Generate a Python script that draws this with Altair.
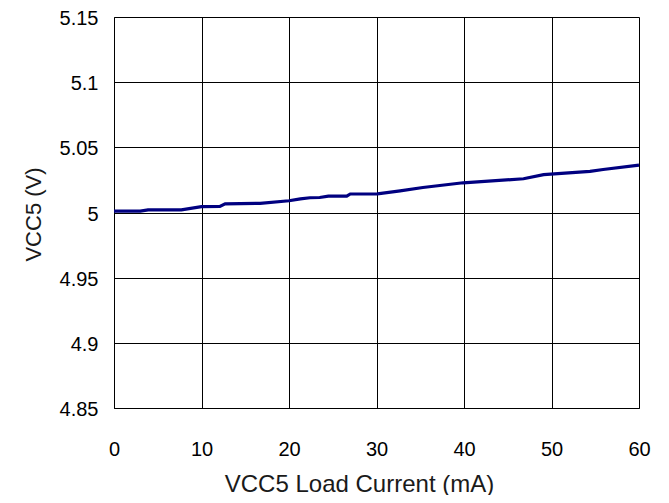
import altair as alt
import pandas as pd

current_ma = [0, 3.0, 3.9, 7.7, 10.0, 12.1, 12.7, 16.7, 20.0, 21.3, 22.4, 23.5,
              24.5, 26.6, 27.0, 30.1, 32.7, 35.3, 39.9, 46.8, 49.1, 54.4, 55.9, 60.0]
vcc5_v = [5.001, 5.001, 5.002, 5.002, 5.0045, 5.0046, 5.0066, 5.007, 5.009, 5.0105, 5.0113, 5.0115,
          5.0125, 5.0125, 5.0142, 5.0143, 5.0166, 5.0192, 5.0228, 5.0259, 5.029, 5.0315, 5.033, 5.0363]
x_ticks = [0, 10, 20, 30, 40, 50, 60]
y_ticks = [4.85, 4.9, 4.95, 5.0, 5.05, 5.1, 5.15]

df = pd.DataFrame({"current": current_ma, "vcc5": vcc5_v})

FONT = "Liberation Sans"

chart = alt.Chart(df).mark_line(color="#000080", strokeWidth=3.2, interpolate="linear").encode(
    x=alt.X("current:Q",
            scale=alt.Scale(domain=[0, 60], nice=False, zero=False),
            axis=alt.Axis(values=x_ticks, format="d", title="VCC5 Load Current (mA)",
                          grid=True, gridColor="#000000", gridWidth=1, gridOpacity=1,
                          ticks=False, tickSize=0, domain=True, domainColor="#000000",
                          labelFlush=False, labelOverlap=False,
                          labelFont=FONT, labelFontSize=20, labelColor="#000000",
                          labelBaseline="alphabetic", labelPadding=47,
                          titleFont=FONT, titleFontSize=24, titleFontWeight="normal",
                          titleColor="#1a1a1a", titleX=245, titleY=83,
                          titleAlign="center", titleBaseline="alphabetic")),
    y=alt.Y("vcc5:Q",
            scale=alt.Scale(domain=[4.85, 5.15], nice=False, zero=False),
            axis=alt.Axis(values=y_ticks, format="~g", title="VCC5 (V)",
                          grid=True, gridColor="#000000", gridWidth=1, gridOpacity=1,
                          ticks=False, tickSize=0, domain=True, domainColor="#000000",
                          labelFlush=False, labelOverlap=False,
                          labelFont=FONT, labelFontSize=20, labelColor="#000000",
                          labelBaseline="middle", labelPadding=16, labelOffset=1.5,
                          titleFont=FONT, titleFontSize=22, titleFontWeight="normal",
                          titleColor="#1a1a1a", titleX=-81, titleY=197, titleAngle=270,
                          titleAlign="center", titleBaseline="middle")),
).properties(
    width=525, height=391,
    autosize=alt.AutoSizeParams(type="none"),
    padding={"left": 106, "top": 9, "right": 22, "bottom": 87},
).configure_view(stroke="#000000", strokeWidth=1).configure(background="white")

chart.save("out.html", embed_options={"renderer": "svg", "actions": False})
